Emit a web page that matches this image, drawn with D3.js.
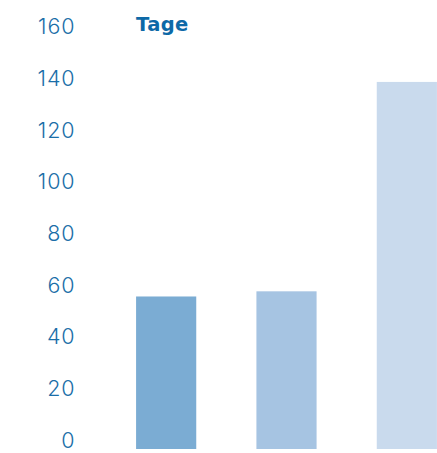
<!DOCTYPE html>
<html><head><meta charset="utf-8">
<script src="https://cdn.jsdelivr.net/npm/d3@7"></script>
<style>body{margin:0;background:#fff}svg{display:block}</style>
</head><body>
<svg id="c" width="437" height="453"></svg>
<script>
const categories = ["A", "B", "C"];
const values = [59, 61, 142];
const barColors = ["#7bacd3", "#a6c4e2", "#c9daed"];
const yTicks = [0, 20, 40, 60, 80, 100, 120, 140, 160];
const unitLabel = "Tage";

const svg = d3.select("#c");
const y = d3.scaleLinear().domain([0, 160]).range([449, 35.4]);
const x = d3.scaleBand().domain(categories).range([106, 467]).paddingInner(0.5).paddingOuter(0.25);

svg.selectAll("rect.bar").data(values).enter().append("rect")
  .attr("class", "bar")
  .attr("x", (d, i) => x(categories[i]))
  .attr("width", x.bandwidth())
  .attr("y", d => y(d))
  .attr("height", d => y(0) - y(d))
  .attr("fill", (d, i) => barColors[i]);

const axis = d3.axisLeft(y).tickValues(yTicks).tickSize(0).tickPadding(0);
const g = svg.append("g").attr("transform", "translate(75.5,-8.5)").call(axis)
  .attr("font-family", "Inter").attr("font-size", 21.5);
g.select(".domain").remove();
g.selectAll("text")
  .attr("fill", "#1a6ea8")
  .attr("font-family", "Inter")
  .attr("font-weight", 350)
  .attr("font-size", 21.5)
  .attr("letter-spacing", 0.9);

svg.append("text").attr("x", 136).attr("y", 31)
  .text(unitLabel)
  .attr("fill", "#0d69a7")
  .attr("font-family", "DejaVu Sans")
  .attr("font-weight", 700)
  .attr("font-size", 19.5)
  .attr("letter-spacing", 0.4);
</script>
</body></html>
